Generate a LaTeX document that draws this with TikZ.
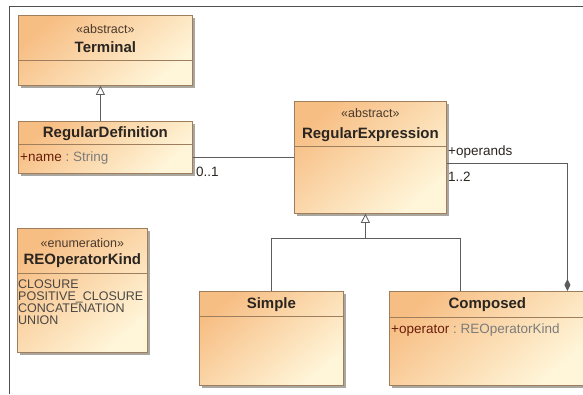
\documentclass[tikz,border=0pt]{standalone}
\usepackage{fontspec}
\setmainfont{Liberation Sans}
\usetikzlibrary{arrows.meta,shadows,calc}

\definecolor{peach}{HTML}{F7BE84}
\definecolor{cream}{HTML}{FFF6DA}
\definecolor{boxline}{HTML}{9E7E5C}
\definecolor{shadowgray}{HTML}{8E8880}
\definecolor{namecol}{HTML}{2A2520}
\definecolor{stereocol}{HTML}{4A3A2C}
\definecolor{attrred}{HTML}{6A1E08}
\definecolor{typegray}{HTML}{7C7C7C}
\definecolor{linecol}{HTML}{5C5C5C}
\definecolor{framecol}{HTML}{505050}

\tikzset{
  umlclass/.style={draw=boxline, line width=0.8pt, shading=axis,
    top color=peach, bottom color=cream, shading angle=40,
    drop shadow={shadow xshift=2.5pt, shadow yshift=-2.5pt,
      fill=shadowgray, opacity=0.75},
    inner sep=0pt, anchor=north west},
  sepline/.style={draw=boxline, line width=0.8pt},
  stereo/.style={font=\fontsize{12.5}{14}\selectfont, text=stereocol,
    inner sep=0pt, anchor=base},
  cname/.style={font=\bfseries\fontsize{15}{17}\selectfont, text=namecol,
    inner sep=0pt, anchor=base},
  attr/.style={font=\fontsize{13.5}{15}\selectfont, text=attrred,
    inner sep=0pt, anchor=base west},
  literal/.style={font=\fontsize{12.5}{13}\selectfont, text=namecol!85,
    inner sep=0pt, anchor=base west},
  role/.style={font=\fontsize{13.5}{15}\selectfont, text=namecol,
    inner sep=0pt, anchor=base west},
  conn/.style={draw=linecol, line width=1.1pt},
  gen/.style={conn, -{Triangle[width=9pt,length=9pt,fill=white,line width=0.8pt]}},
  compo/.style={conn, -{Diamond[width=6pt,length=12pt,fill=linecol]}},
  frameline/.style={draw=framecol, line width=1.2pt}
}

\begin{document}
\begin{tikzpicture}[x=1pt, y=-1pt]
\useasboundingbox (0,0) rectangle (583,394);
\clip (0,0) rectangle (583,394);

% diagram frame
\draw[frameline] (9.5,394) -- (9.5,6.5) -- (583,6.5);

% classes
\node[umlclass, minimum width=174pt, minimum height=70pt]  (term) at (18,15) {};
\node[umlclass, minimum width=174pt, minimum height=52pt]  (rd)   at (18,121) {};
\node[umlclass, minimum width=152pt, minimum height=112pt] (re)   at (294,101) {};
\node[umlclass, minimum width=130pt, minimum height=124pt] (kind) at (17,228) {};
\node[umlclass, minimum width=144pt, minimum height=94pt]  (simple) at (199,291) {};
\node[umlclass, minimum width=196pt, minimum height=94pt]  (comp) at (389,291) {};

% compartment separators
\draw[sepline] (term.west |- 0,60)   -- (term.east |- 0,60);
\draw[sepline] (rd.west |- 0,144)    -- (rd.east |- 0,144);
\draw[sepline] (re.west |- 0,146)    -- (re.east |- 0,146);
\draw[sepline] (kind.west |- 0,273)  -- (kind.east |- 0,273);
\draw[sepline] (simple.west |- 0,316) -- (simple.east |- 0,316);
\draw[sepline] (comp.west |- 0,317)  -- (comp.east |- 0,317);

% class headers
\node[stereo] (term-st) at (term.north |- 0,33) {«abstract»};
\node[cname]  (term-nm) at (term.north |- 0,52.5) {Terminal};
\node[cname]  (rd-nm)   at (rd.north |- 0,137.5) {RegularDefinition};
\node[stereo] (re-st)   at (re.north |- 0,117) {«abstract»};
\node[cname]  (re-nm)   at (re.north |- 0,138.5) {RegularExpression};
\node[stereo] (kind-st) at (kind.north |- 0,247) {«enumeration»};
\node[cname]  (kind-nm) at (kind.north |- 0,264.5) {REOperatorKind};
\node[cname]  (simple-nm) at (simple.north |- 0,308.5) {Simple};
\node[cname]  (comp-nm) at (comp.north |- 0,308.5) {Composed};

% attributes
\node[attr] (rd-attr) at (20,161) {+name\textcolor{typegray}{\ :\ String}};
\node[attr] (comp-attr) at (391,333) {+operator\textcolor{typegray}{\ :\ REOperatorKind}};

% enumeration literals
\node[literal] (lit1) at (18,288.5) {CLOSURE};
\node[literal] (lit2) at (18,300.5) {POSITIVE\_CLOSURE};
\node[literal] (lit3) at (18,312.5) {CONCATENATION};
\node[literal] (lit4) at (18,324.5) {UNION};

% generalizations
\draw[gen] ([xshift=-5pt]rd.north) -- ([xshift=-5pt]term.south);
\coordinate (genjoin) at ([xshift=-5pt, yshift=-25pt]re.south);
\draw[conn] (simple.north) |- (genjoin);
\draw[conn] ([xshift=-27pt]comp.north) |- (genjoin);
\draw[gen] (genjoin) -- ([xshift=-5pt]re.south);

% association RegularDefinition -- RegularExpression
\draw[conn] (rd.east |- re.west) -- (re.west);
\node[role] (mult-rd) at (196,176) {0..1};

% composition Composed <>-- RegularExpression
\draw[compo] ([yshift=-6pt]re.east) -| ([xshift=80pt]comp.north);
\node[role] (operands) at (448,155.5) {+operands};
\node[role] (mult-op)  at (448,181) {1..2};
\end{tikzpicture}
\end{document}
